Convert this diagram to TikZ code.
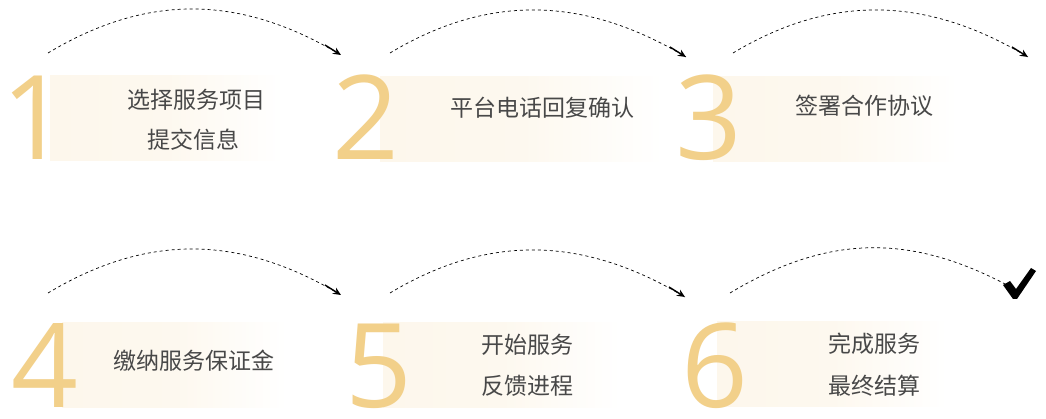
\documentclass[tikz,border=0pt]{standalone}
\usepackage{fontspec}
\usetikzlibrary{arrows.meta}
\newfontfamily\cjk{Noto Sans CJK SC}
\newfontfamily\digitfont{Open Sans}
\definecolor{digitgold}{HTML}{F2D08A}
\definecolor{boxcream}{HTML}{FDF7EC}
\definecolor{txtgray}{HTML}{484848}
\tikzset{
  stepbox/.style={draw=none, inner sep=0, minimum height=85pt, anchor=north west,
    left color=boxcream, right color=white, middle color=boxcream!85!white},
  bignum/.style={font=\digitfont\fontsize{117}{117}\selectfont, text=digitgold, inner sep=0, anchor=base, text height=86pt, text depth=0pt},
  steptext/.style={font=\cjk\fontsize{23}{23}\selectfont, text=txtgray, inner sep=0, anchor=center},
  flow/.style={draw=black, line width=0.7pt, dash pattern=on 3pt off 3pt},
  tipline/.style={draw=black, line width=1.4pt, -{Stealth[length=8pt,width=7pt]}},
}
\begin{document}
\begin{tikzpicture}[x=1pt,y=-1pt]
\useasboundingbox[fill=white] (0,0) rectangle (1046,419);
% boxes
\node[stepbox, minimum width=233pt] (b1) at (50,75) {};
\node[stepbox, minimum width=283pt] (b2) at (380,76) {};
\node[stepbox, minimum width=244pt] (b3) at (713,76) {};
\node[stepbox, minimum width=225pt] (b4) at (62,322) {};
\node[stepbox, minimum width=237pt] (b5) at (383,322) {};
\node[stepbox, minimum width=230pt] (b6) at (717,321) {};
% digits
\node[bignum] (n1) at (35,160) {1};
\node[bignum] (n2) at (366,160) {2};
\node[bignum] (n3) at (709,160) {3};
\node[bignum] (n4) at (45,407) {4};
\node[bignum] (n5) at (379,407) {5};
\node[bignum] (n6) at (715,407) {6};
% texts
\node[steptext] (t1a) at (196,100) {选择服务项目};
\node[steptext] (t1b) at (193,140) {提交信息};
\node[steptext] (t2) at (542,108) {平台电话回复确认};
\node[steptext] (t3) at (864,106) {签署合作协议};
\node[steptext] (t4) at (194,361) {缴纳服务保证金};
\node[steptext] (t5a) at (527,345) {开始服务};
\node[steptext] (t5b) at (527,386) {反馈进程};
\node[steptext] (t6a) at (874,344) {完成服务};
\node[steptext] (t6b) at (874,386) {最终结算};
% connector ends
\coordinate (s1) at (48,53);  \coordinate (e1) at (341,55);
\coordinate (s2) at (390,53); \coordinate (e2) at (686,57);
\coordinate (s3) at (733,53); \coordinate (e3) at (1028,57);
\coordinate (s4) at (48,293); \coordinate (e4) at (341,295);
\coordinate (s5) at (390,293); \coordinate (e5) at (685,297);
\coordinate (s6) at (730,293); \coordinate (e6) at (1007,285);
\draw[flow] (s1) .. controls +(100,-60) and +(-100,-60) .. (e1);
\draw[flow] (s2) .. controls +(100,-60) and +(-100,-60) .. (e2);
\draw[flow] (s3) .. controls +(100,-60) and +(-100,-60) .. (e3);
\draw[flow] (s4) .. controls +(100,-60) and +(-100,-60) .. (e4);
\draw[flow] (s5) .. controls +(100,-60) and +(-100,-60) .. (e5);
\draw[flow] (s6) .. controls +(100,-60) and +(-95,-50) .. (e6);
\draw[tipline] (e1) ++(-16,-10) -- (e1);
\draw[tipline] (e2) ++(-16,-10) -- (e2);
\draw[tipline] (e3) ++(-16,-10) -- (e3);
\draw[tipline] (e4) ++(-16,-10) -- (e4);
\draw[tipline] (e5) ++(-16,-10) -- (e5);
% check mark
\fill[black] (1003,285) -- (1010,281) -- (1016,289) -- (1031,268) -- (1036,271) -- (1017,299) -- (1013,299) -- cycle;
\end{tikzpicture}
\end{document}
